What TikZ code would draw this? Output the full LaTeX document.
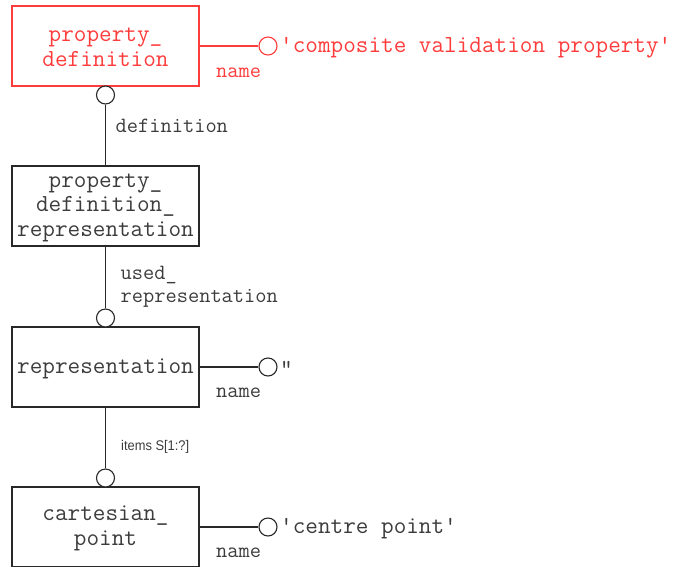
\documentclass[tikz,border=0pt]{standalone}
\usepackage{fontspec}
\newfontfamily\labelsans{Liberation Sans}
\definecolor{hilite}{RGB}{255,60,60}
\definecolor{ink}{RGB}{40,40,40}
\definecolor{txt}{RGB}{60,60,60}
\tikzset{
  entity/.style={draw=ink, line width=1.1pt, minimum width=187pt, minimum height=80pt,
    inner sep=0pt, text=txt, align=center,
    font=\ttfamily\fontsize{24.5}{24.5}\selectfont},
  hientity/.style={entity, draw=hilite, text=hilite},
  entitytext/.style={inner sep=0pt, text=txt, align=center, yshift=-1.5pt,
    font=\ttfamily\fontsize{24.5}{24.5}\selectfont},
  hientitytext/.style={entitytext, text=hilite},
  link/.style={draw=ink, line width=1.1pt},
  hilink/.style={link, draw=hilite},
  ring/.style={circle, draw=ink, line width=1.1pt, minimum size=18pt, inner sep=0pt, fill=white},
  hiring/.style={ring, draw=hilite},
  val/.style={anchor=west, inner sep=0pt, text=txt, yshift=-1.5pt,
    font=\ttfamily\fontsize{24.5}{24.5}\selectfont},
  hival/.style={val, text=hilite},
  role/.style={anchor=west, inner sep=0pt, text=txt, align=left,
    font=\ttfamily\fontsize{21.8}{23}\selectfont},
  hirole/.style={role, text=hilite},
  smallrole/.style={anchor=west, inner sep=0pt, text=txt, xscale=0.92,
    font=\labelsans\fontsize{14}{15}\selectfont}
}
\begin{document}
\begin{tikzpicture}[x=1pt, y=-1pt]
\useasboundingbox (0,0) rectangle (675,566);

% entities (frames, then their names)
\node[hientity] (pd)  at (105.5,46)  {};
\node[entity]   (pdr) at (105.5,206) {};
\node[entity]   (rep) at (105.5,367) {};
\node[entity]   (cp)  at (105.5,527) {};
\node[hientitytext] (pdt)  at (pd.center)  {property\_\\definition};
\node[entitytext]   (pdrt) at (pdr.center) {property\_\\definition\_\\representation};
\node[entitytext]   (rept) at (rep.center) {representation};
\node[entitytext]   (cpt)  at (cp.center)  {cartesian\_\\point};

% attribute ends
\node[hiring] (pdname) at (268,46)  {};
\node[ring]   (repname) at (268,367) {};
\node[ring]   (cpname)  at (268,527) {};

% relationship ends
\node[ring] (defend)  at (105.5,95)  {};
\node[ring] (usedend) at (105.5,318) {};
\node[ring] (itemend) at (105.5,478) {};

% attribute links
\draw[hilink] (pd.east |- pdname) -- (pdname.west);
\draw[link] (rep.east |- repname) -- (repname.west);
\draw[link] (cp.east |- cpname) -- (cpname.west);

% relationship links
\draw[link] (defend.south) -- (pdr.north);
\draw[link] (pdr.south) -- (usedend.north);
\draw[link] (rep.south) -- (itemend.north);

% values
\node[hival] (v1) at (280,46)  {'composite validation property'};
\node[val]   (v2) at (280,367) {"};
\node[val]   (v3) at (280,527) {'centre point'};

% role labels
\node[hirole] (n1) at (216,73)  {name};
\node[role]   (n2) at (216,393) {name};
\node[role]   (n3) at (216,553) {name};
\node[role]   (r1) at (115.5,126) {definition};
\node[role]   (r2) at (120.5,286.5) {used\_\\representation};
\node[smallrole] (r3) at (121,447) {items S[1:?]};
\end{tikzpicture}
\end{document}
